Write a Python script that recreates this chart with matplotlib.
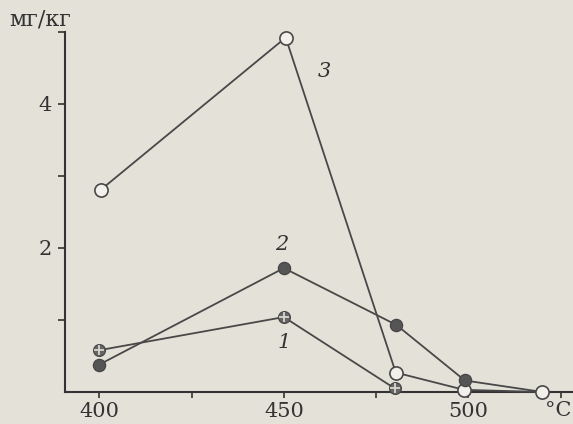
import matplotlib
matplotlib.use("Agg")
import matplotlib.pyplot as plt

# Data (temperature, °C ; yield, mg/kg)
t1 = [400, 450, 480]
y1 = [0.58, 1.04, 0.05]
t2 = [400, 450, 480.5, 499, 520]
y2 = [0.38, 1.72, 0.93, 0.16, 0.0]
t3 = [400.5, 450.5, 480.3, 498.8, 519.8]
y3 = [2.81, 4.92, 0.27, 0.03, 0.0]

xticks_major = [400, 425, 450, 475, 500, 525]
xtick_labels = ["400", "", "450", "", "500", ""]
yticks_major = [1, 2, 3, 4, 5]
ytick_labels = ["", "2", "", "4", ""]
series_labels = ["1", "2", "3"]

bg = "#e4e1d8"
ink = "#333333"
line_c = "#484848"
fam = ["DejaVu Serif"]

fig = plt.figure(figsize=(5.73, 4.24), dpi=100, facecolor=bg)
ax = fig.add_axes([0.1126, 0.0755, 0.8874, 0.8495], facecolor=bg)

lw = 1.3
# series 1 (cross-hatched circles)
ax.plot(t1, y1, color=line_c, lw=lw, marker="o", ms=8.5, mfc="#656565",
        mec=line_c, mew=0.9, clip_on=False, zorder=3)
ax.plot(t1, y1, ls="none", marker="+", ms=6.5, mec="#d8d5cc", mew=1.3,
        clip_on=False, zorder=4)
# series 3 (open circles)
ax.plot(t3, y3, color=line_c, lw=lw, marker="o", ms=9.5, mfc="#f2f0ea",
        mec=line_c, mew=1.2, clip_on=False, zorder=3)
# series 2 (filled circles)
ax.plot(t2[:-1], y2[:-1], color=line_c, lw=lw, marker="o", ms=8.8,
        mfc="#555555", mec="#454545", mew=0.9, clip_on=False, zorder=3)
ax.plot(t2[-2:], y2[-2:], color=line_c, lw=lw, clip_on=False, zorder=2)

ax.set_xlim(390.6, 528.3)
ax.set_ylim(0, 5)

for s in ["top", "right"]:
    ax.spines[s].set_visible(False)
for s in ["left", "bottom"]:
    ax.spines[s].set_color(ink)
    ax.spines[s].set_linewidth(1.5)

ax.set_xticks(xticks_major)
ax.set_xticklabels(xtick_labels)
ax.set_yticks(yticks_major)
ax.set_yticklabels(ytick_labels)
ax.tick_params(axis="x", direction="out", length=4, width=1.2, color=ink,
               labelsize=15, labelcolor=ink, pad=3)
ax.tick_params(axis="y", direction="out", length=5, width=1.2, color=ink,
               labelsize=15, labelcolor=ink, pad=4)
for lab in ax.get_xticklabels() + ax.get_yticklabels():
    lab.set_family(fam)

# units
fig.text(9 / 573, 1 - 20 / 424, "мг/кг", family=fam, fontsize=16,
         color=ink, ha="left", va="center")
fig.text(558 / 573, 1 - 411 / 424, "°C", family=fam, fontsize=15,
         color=ink, ha="center", va="center")

# curve labels
lab_pos = [(450, 0.69), (449.5, 2.05), (461, 4.45)]
for txt, (x, y) in zip(series_labels, lab_pos):
    ax.text(x, y, txt, family=fam, style="italic", fontsize=15, color=ink,
            ha="center", va="center")

fig.savefig("out.png", dpi=100, facecolor=bg)
